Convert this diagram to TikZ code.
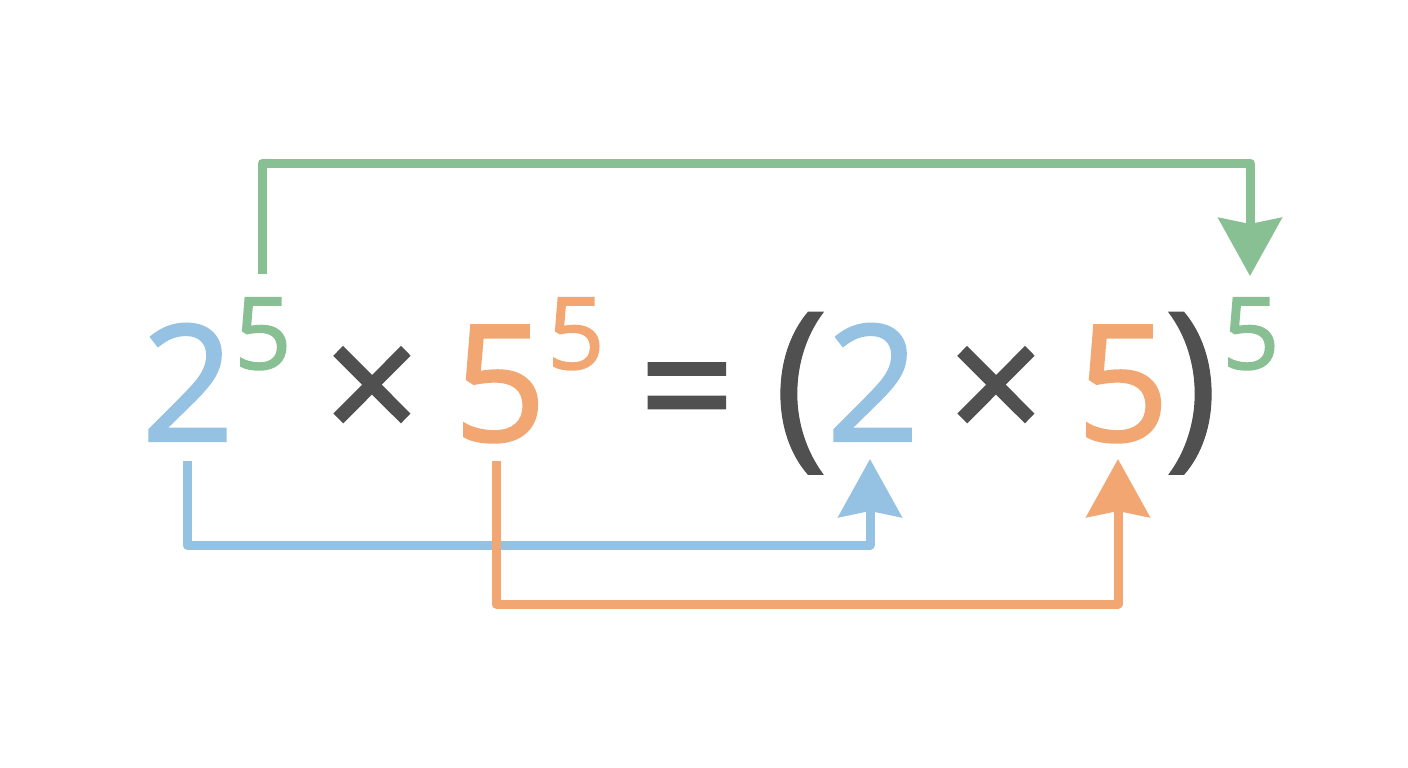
\documentclass[tikz,border=0pt]{standalone}
\usepackage{fontspec}
\newfontfamily\numf{Open Sans}[FakeBold=1.4]
\newfontfamily\parf{Open Sans}[FakeBold=0.6]
\usetikzlibrary{arrows.meta}
\definecolor{cblue}{HTML}{95C1E2}
\definecolor{cgreen}{HTML}{88BF93}
\definecolor{corange}{HTML}{F2A672}
\definecolor{cgray}{HTML}{505050}
\begin{document}
\begin{tikzpicture}[x=1pt,y=-1pt,
  big/.style={inner sep=0pt,anchor=base,font=\numf\fontsize{162}{162}\selectfont},
  sup/.style={inner sep=0pt,anchor=base,font=\numf\fontsize{100}{100}\selectfont},
  op/.style={inner sep=0pt,anchor=base,text=cgray,font=\numf\fontsize{168}{168}\selectfont},
  par/.style={inner sep=0pt,anchor=base,text=cgray,font=\parf\fontsize{186}{186}\selectfont},
  conn/.style={line width=9pt,line join=round,line cap=butt,
    -{Stealth[length=58pt,width=63pt,inset=6pt]}}]
\useasboundingbox[fill=white] (0,0) rectangle (1408,768);
% text
\node[big,text=cblue] (a2) at (188,441) {2};
\node[sup,text=cgreen] (ae) at (263,369) {5};
\node[op] (m1) at (372,444) {×};
\node[big,text=corange] (a5) at (500,441) {5};
\node[sup,text=corange] (be) at (576,369) {5};
\node[op] (eq) at (687,445) {=};
\node[par] (lp) at (801,445) {(};
\node[big,text=cblue] (b2) at (873,441) {2};
\node[op] (m2) at (996,444) {×};
\node[big,text=corange] (b5) at (1123,441) {5};
\node[par] (rp) at (1191,445) {)};
\node[sup,text=cgreen] (ce) at (1251,369) {5};
% connector ends
\coordinate (gs) at (262,274);
\coordinate (gt) at (1250,276);
\coordinate (bs) at (187,461);
\coordinate (bt) at (870,459);
\coordinate (os) at (496,461);
\coordinate (ot) at (1118,459);
\draw[conn,draw=cgreen] (gs) |- (1250,163) -- (gt);
\draw[conn,draw=cblue] (bs) |- (870,545) -- (bt);
\draw[conn,draw=corange] (os) |- (1118,604) -- (ot);
\end{tikzpicture}
\end{document}
